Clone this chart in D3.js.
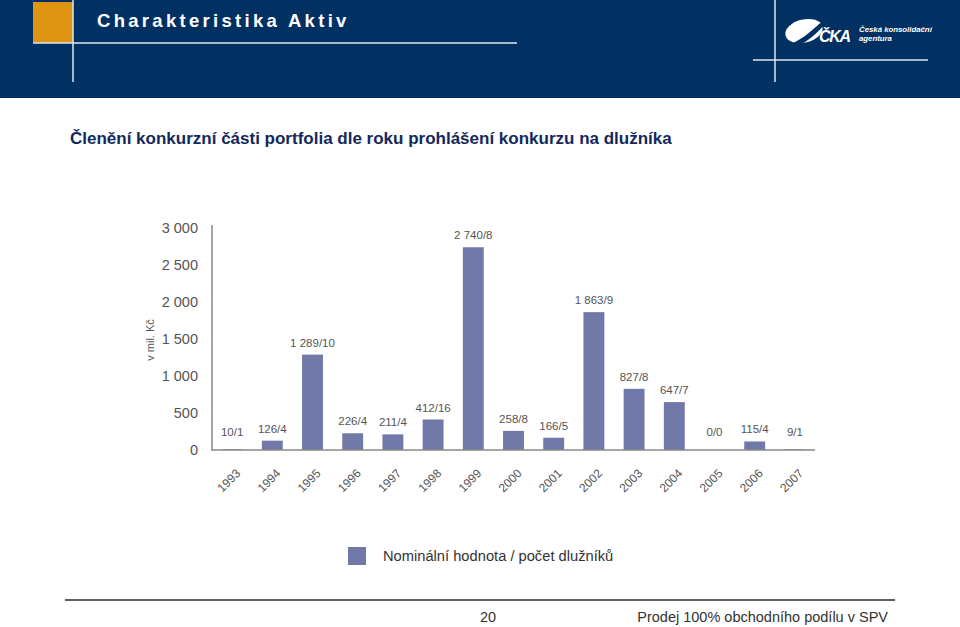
<!DOCTYPE html>
<html><head><meta charset="utf-8">
<script src="https://cdn.jsdelivr.net/npm/d3@7"></script>
<style>body{margin:0;background:#fff}svg{display:block}</style>
</head><body>
<script>
const years = ["1993","1994","1995","1996","1997","1998","1999","2000","2001","2002","2003","2004","2005","2006","2007"];
const values = [10,126,1289,226,211,412,2740,258,166,1863,827,647,0,115,9];
const valueLabels = ["10/1","126/4","1 289/10","226/4","211/4","412/16","2 740/8","258/8","166/5","1 863/9","827/8","647/7","0/0","115/4","9/1"];
const yTicks = [0,500,1000,1500,2000,2500,3000];
const yTickLabels = ["0","500","1 000","1 500","2 000","2 500","3 000"];
const legendLabel = "Nominální hodnota / počet dlužníků";

const W=960,H=627;
const svg=d3.select("body").append("svg").attr("width",W).attr("height",H);
const font="'Liberation Sans', Arial, Helvetica, sans-serif";

// header
svg.append("rect").attr("x",0).attr("y",0).attr("width",W).attr("height",98).attr("fill","#013063");
svg.append("rect").attr("x",33).attr("y",2).attr("width",40).attr("height",41).attr("fill","#e09512");
svg.append("line").attr("x1",73).attr("x2",73).attr("y1",0).attr("y2",82).attr("stroke","#dfe6ee").attr("stroke-width",1.5);
svg.append("line").attr("x1",33).attr("x2",517).attr("y1",43).attr("y2",43).attr("stroke","#dfe6ee").attr("stroke-width",1.5);
svg.append("text").attr("x",97).attr("y",26.5).attr("fill","#fff").attr("font-family",font).attr("font-weight","bold")
  .attr("font-size",18.5).attr("letter-spacing",3.3).text("Charakteristika Aktiv");
svg.append("line").attr("x1",775).attr("x2",775).attr("y1",0).attr("y2",82).attr("stroke","#dfe6ee").attr("stroke-width",1.5);
svg.append("line").attr("x1",753).attr("x2",928).attr("y1",60).attr("y2",60).attr("stroke","#dfe6ee").attr("stroke-width",1.5);
// logo
svg.append("ellipse").attr("cx",804).attr("cy",31).attr("rx",19).attr("ry",11.5).attr("fill","#fff")
  .attr("transform","rotate(-14,804,31)");
svg.append("path").attr("d","M791,44 C805,38 814,28 824,20 L827,22 C818,32 808,42 797,46 Z").attr("fill","#013063");
svg.append("text").attr("x",819).attr("y",42).attr("fill","#fff").attr("font-family",font).attr("font-weight","bold")
  .attr("font-style","italic").attr("font-size",16).attr("textLength",32).text("ČKA");
svg.append("text").attr("x",859).attr("y",31.5).attr("fill","#fff").attr("font-family",font).attr("font-weight","bold")
  .attr("font-style","italic").attr("font-size",7.8).text("Česká konsolidační");
svg.append("text").attr("x",859).attr("y",41).attr("fill","#fff").attr("font-family",font).attr("font-weight","bold")
  .attr("font-style","italic").attr("font-size",7.8).text("agentura");

// subtitle
svg.append("text").attr("x",70).attr("y",144).attr("fill","#13295b").attr("font-family",font).attr("font-weight","bold")
  .attr("font-size",17).text("Členění konkurzní části portfolia dle roku prohlášení konkurzu na dlužníka");

// chart
const x=d3.scaleBand().domain(years).range([212,815]).paddingInner(0.48).paddingOuter(0.24);
const y=d3.scaleLinear().domain([0,3000]).range([450,228]);
const barColor="#7079a8";
const txt="#555";

const g=svg.append("g");
g.selectAll("rect.bar").data(values).join("rect").attr("class","bar")
  .attr("x",(d,i)=>x(years[i])).attr("width",x.bandwidth())
  .attr("y",d=>y(d)).attr("height",d=>y(0)-y(d)).attr("fill",barColor);

g.selectAll("text.val").data(values).join("text").attr("class","val")
  .attr("x",(d,i)=>x(years[i])+x.bandwidth()/2).attr("y",d=>Math.min(y(d),y(0)-6)-8)
  .attr("text-anchor","middle").attr("font-family",font).attr("font-size",11.5).attr("fill",txt)
  .text((d,i)=>valueLabels[i]);

// y axis
const yAxis=d3.axisLeft(y).tickValues(yTicks).tickFormat((d,i)=>yTickLabels[i]).tickSize(0).tickPadding(14);
const ya=g.append("g").attr("transform","translate(212,0)").call(yAxis);
ya.select(".domain").remove();
ya.selectAll("text").attr("font-family",font).attr("font-size",14.5).attr("fill",txt);
g.append("line").attr("x1",212).attr("x2",212).attr("y1",225).attr("y2",450).attr("stroke","#8a8a8a").attr("stroke-width",1.5);

// x axis
const xAxis=d3.axisBottom(x).tickSize(0).tickPadding(0);
const xa=g.append("g").attr("transform","translate(0,450)").call(xAxis);
xa.select(".domain").remove();
xa.selectAll("text").attr("font-family",font).attr("font-size",12).attr("fill",txt)
  .attr("text-anchor","end").attr("dy",0).attr("y",0)
  .attr("transform","translate(9,24) rotate(-45)");
g.append("line").attr("x1",211).attr("x2",815).attr("y1",450).attr("y2",450).attr("stroke","#8a8a8a").attr("stroke-width",1.5);

// y axis title
svg.append("text").attr("transform","translate(154,340) rotate(-90)").attr("text-anchor","middle")
  .attr("font-family",font).attr("font-size",11).attr("fill",txt).text("v mil. Kč");

// legend
svg.append("rect").attr("x",348).attr("y",547).attr("width",18).attr("height",18).attr("fill",barColor);
svg.append("text").attr("x",383).attr("y",561).attr("font-family",font).attr("font-size",14.7).attr("fill","#333").text(legendLabel);

// footer
svg.append("line").attr("x1",65).attr("x2",895).attr("y1",600).attr("y2",600).attr("stroke","#5b6168").attr("stroke-width",2);
svg.append("text").attr("x",488).attr("y",622).attr("text-anchor","middle").attr("font-family",font).attr("font-size",14.5).attr("fill","#333").text("20");
svg.append("text").attr("x",888).attr("y",622).attr("text-anchor","end").attr("font-family",font).attr("font-size",14.5).attr("fill","#333").text("Prodej 100% obchodního podílu v SPV");
</script>
</body></html>
